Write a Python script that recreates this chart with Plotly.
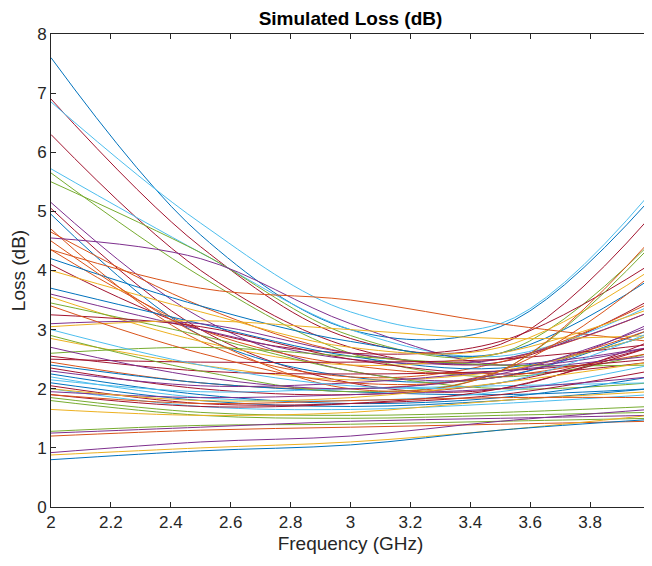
import plotly.graph_objects as go

# frequency sample points (GHz)
freq = [2.0, 2.5, 3.0, 3.5, 4.0]

# loss curves (dB) at the frequencies above
loss_db = [
    [7.60, 4.60, 3.00, 3.05, 5.20],
    [6.90, 4.40, 2.85, 2.75, 4.90],
    [6.85, 4.80, 3.30, 3.10, 5.30],
    [6.30, 4.00, 2.70, 2.45, 3.50],
    [5.72, 4.30, 3.00, 2.55, 3.40],
    [5.65, 3.90, 2.60, 2.20, 2.60],
    [5.50, 4.30, 2.90, 2.60, 4.45],
    [5.15, 3.20, 2.30, 2.20, 3.10],
    [5.05, 3.00, 2.10, 2.00, 2.80],
    [4.95, 2.90, 2.20, 2.20, 3.00],
    [4.70, 2.80, 2.20, 2.45, 3.45],
    [4.65, 3.40, 2.60, 2.50, 3.30],
    [4.55, 4.20, 3.10, 2.40, 2.70],
    [4.35, 3.00, 2.40, 2.30, 3.00],
    [4.20, 3.40, 2.80, 2.60, 3.85],
    [4.10, 3.00, 2.60, 2.80, 4.10],
    [4.00, 3.30, 2.70, 2.70, 4.00],
    [4.35, 3.70, 3.50, 3.10, 2.80],
    [3.70, 3.10, 2.55, 2.35, 2.90],
    [3.60, 3.00, 2.50, 2.50, 3.30],
    [3.55, 2.80, 2.40, 2.60, 3.35],
    [3.45, 2.90, 2.30, 2.00, 2.10],
    [3.25, 3.05, 2.50, 2.25, 2.45],
    [3.10, 3.10, 2.60, 2.40, 2.70],
    [3.05, 3.15, 3.00, 2.85, 2.90],
    [2.85, 2.40, 2.15, 2.30, 2.90],
    [2.60, 2.70, 2.55, 2.40, 2.40],
    [2.55, 2.30, 2.25, 2.30, 2.50],
    [2.50, 2.45, 2.45, 2.50, 2.75],
    [2.45, 2.10, 2.00, 2.20, 2.60],
    [2.40, 2.10, 1.95, 1.90, 2.00],
    [2.35, 2.00, 1.90, 2.10, 2.70],
    [2.30, 2.05, 2.10, 2.30, 2.55],
    [2.25, 1.90, 1.75, 1.85, 2.20],
    [2.20, 1.85, 1.80, 1.95, 2.40],
    [2.15, 1.95, 2.00, 2.05, 2.10],
    [2.10, 1.80, 1.70, 1.80, 2.00],
    [2.05, 1.75, 1.75, 1.90, 2.30],
    [2.00, 1.70, 1.65, 1.75, 1.90],
    [1.95, 1.85, 1.90, 2.00, 2.20],
    [1.90, 1.70, 1.75, 2.00, 2.70],
    [1.85, 1.60, 1.55, 1.60, 1.70],
    [1.80, 1.55, 1.50, 1.55, 1.60],
    [1.65, 1.55, 1.60, 1.80, 1.95],
    [1.28, 1.38, 1.40, 1.45, 1.50],
    [1.25, 1.35, 1.45, 1.50, 1.55],
    [1.20, 1.30, 1.35, 1.40, 1.45],
    [0.92, 1.10, 1.20, 1.45, 1.65],
    [0.88, 1.00, 1.10, 1.30, 1.55],
    [0.80, 0.95, 1.05, 1.30, 1.48],
    [3.40, 2.60, 2.10, 2.30, 3.90],
    [2.90, 2.30, 1.95, 2.30, 4.40],
    [4.50, 2.90, 2.00, 2.30, 4.50],
    [3.00, 2.40, 2.05, 2.10, 2.95],
    [2.70, 2.20, 2.00, 2.25, 3.05],
    [2.00, 1.80, 1.85, 2.10, 2.45],
    [1.90, 1.75, 1.80, 1.85, 1.85],
]

# colour of each curve (MATLAB default palette names)
curve_colors = [
    "blue", "red", "lightblue", "red", "lightblue", "green", "green",
    "purple", "red", "blue", "orange", "orange", "purple", "orange",
    "blue", "red", "yellow", "orange", "blue", "purple", "yellow",
    "green", "red", "purple", "yellow", "yellow", "green", "red",
    "red", "orange", "blue", "red", "purple", "blue", "lightblue",
    "lightblue", "blue", "red", "lightblue", "purple", "red", "green",
    "green", "yellow", "green", "purple", "orange", "purple", "yellow",
    "blue", "orange", "green", "orange", "lightblue", "purple", "yellow",
    "orange",
]

palette = {
    "blue": "#0072BD",
    "orange": "#D95319",
    "yellow": "#EDB120",
    "purple": "#7E2F8E",
    "green": "#77AC30",
    "lightblue": "#4DBEEE",
    "red": "#A2142F",
}

fig = go.Figure()
for vals, cname in zip(loss_db, curve_colors):
    fig.add_trace(go.Scatter(
        x=freq, y=vals, mode="lines",
        line=dict(color=palette[cname], width=1, shape="spline", smoothing=1.0),
        showlegend=False, hoverinfo="skip",
    ))

axis_style = dict(
    showline=True, linecolor="#262626", linewidth=1, mirror="ticks",
    ticks="inside", ticklen=5, tickcolor="#262626", showgrid=False,
    zeroline=False, automargin=False, ticklabeloverflow="allow",
    tickfont=dict(size=17, color="#262626"),
)

# page body adds an 8px offset; figure sized so the page does not scroll
fig.update_layout(
    width=644, height=550,
    paper_bgcolor="white", plot_bgcolor="white",
    font=dict(family="Liberation Sans, Arial, sans-serif", color="#262626"),
    margin=dict(l=43, r=2, t=26, b=51),
    title=dict(text="<b>Simulated Loss (dB)</b>", x=0.5, xanchor="center",
               xref="paper", yref="container", y=0.982, yanchor="middle",
               automargin=False, pad=dict(t=0, b=0),
               font=dict(size=19, color="black")),
    xaxis=dict(range=[2, 4], dtick=0.2, tick0=2,
               title=dict(text="Frequency (GHz)", font=dict(size=19), standoff=5),
               **axis_style),
    yaxis=dict(range=[0, 8], dtick=1,
               title=dict(text="Loss (dB)", font=dict(size=19), standoff=6),
               **axis_style),
)

fig.write_html("out.html")
